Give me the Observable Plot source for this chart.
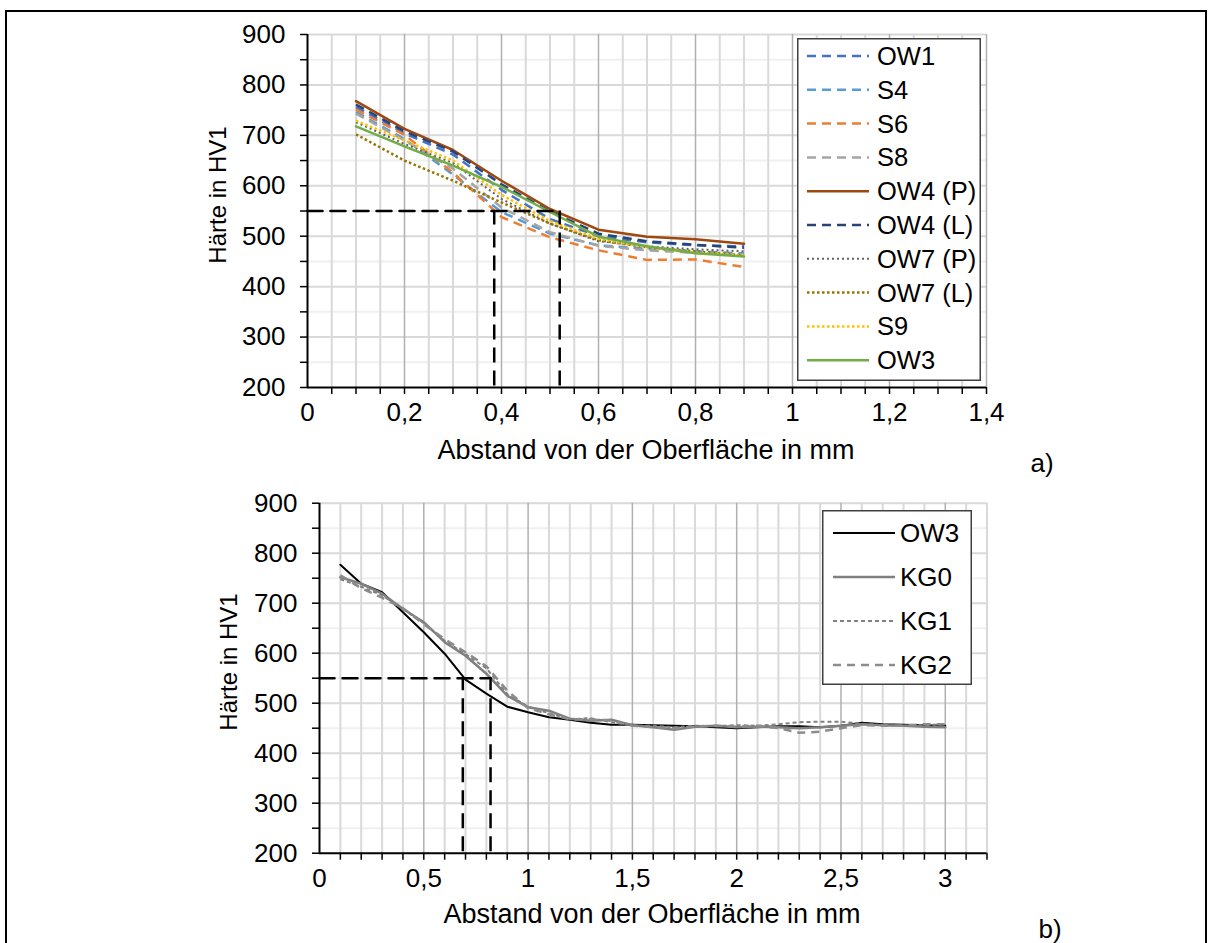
<!DOCTYPE html>
<html><head><meta charset="utf-8">
<script src="https://cdn.jsdelivr.net/npm/d3@7"></script>
<script src="https://cdn.jsdelivr.net/npm/@observablehq/plot@0.6"></script>
<style>
body{margin:0;background:#fff;font-family:"Liberation Sans",Arial,sans-serif;}
#wrap{position:relative;width:1211px;height:943px;overflow:hidden;background:#fff;}
.abs{position:absolute;}
.lbl{position:absolute;transform:translate(-50%,-50%);white-space:nowrap;color:#000;}
</style></head><body><div id="wrap"></div>
<script>
// ---------- Data: chart a) ----------
const xTop = [0.1, 0.2, 0.3, 0.4, 0.5, 0.6, 0.7, 0.8, 0.9];
const seriesTopNames = ["OW1", "S4", "S6", "S8", "OW4 (P)", "OW4 (L)", "OW7 (P)", "OW7 (L)", "S9", "OW3"];
const OW1   = [756, 704, 662, 592, 534, 500, 488, 482, 480];
const S4    = [746, 693, 622, 548, 505, 482, 475, 470, 466];
const S6    = [751, 701, 626, 538, 498, 472, 453, 454, 439];
const S8    = [743, 690, 634, 557, 508, 481, 472, 467, 463];
const OW4P  = [768, 713, 671, 610, 554, 513, 499, 494, 485];
const OW4L  = [761, 708, 668, 603, 549, 505, 490, 483, 477];
const OW7P  = [726, 683, 645, 574, 525, 490, 480, 474, 470];
const OW7L  = [702, 650, 610, 567, 525, 492, 478, 470, 462];
const S9    = [729, 690, 650, 582, 530, 495, 478, 467, 462];
const OW3a  = [718, 678, 640, 598, 548, 499, 480, 466, 460];
const xTicksTop = [0, 0.2, 0.4, 0.6, 0.8, 1, 1.2, 1.4];
const refTopH = 550, refTopV = [0.385, 0.52];

// ---------- Data: chart b) ----------
const xBottom = [0.1,0.2,0.3,0.4,0.5,0.6,0.7,0.8,0.9,1.0,1.1,1.2,1.3,1.4,1.5,1.6,1.7,1.8,1.9,2.0,2.1,2.2,2.3,2.4,2.5,2.6,2.7,2.8,2.9,3.0];
const seriesBottomNames = ["OW3", "KG0", "KG1", "KG2"];
const OW3b = [777,739,722,682,642,599,547,519,493,482,472,467,461,457,457,456,455,454,452,450,452,454,454,452,455,461,458,457,456,455];
const KG0  = [752,739,719,689,662,622,595,559,515,492,485,469,465,467,456,452,447,453,455,452,453,452,450,452,455,458,456,455,453,452];
const KG1  = [748,733,716,688,660,625,598,570,518,493,480,468,470,462,455,455,452,455,454,456,455,458,462,463,463,459,456,455,456,458];
const KG2  = [756,730,711,690,658,628,602,574,525,490,478,468,468,465,455,452,450,453,455,453,455,450,441,443,450,456,455,455,458,458];
const xTicksBottom = [0, 0.5, 1, 1.5, 2, 2.5, 3];
const refBotH = 550, refBotV = [0.687, 0.82];

const yTicks = [200, 300, 400, 500, 600, 700, 800, 900];

// ---------- Helpers ----------
const FONT = "Liberation Sans, Arial, sans-serif";
const fmt = d => String(d).replace(".", ",");
const wrap = document.getElementById("wrap");
const rows = (xs, ys) => xs.map((x, i) => ({x, y: ys[i]}));
const stepList = (a, b, n) => d3.range(n + 1).map(i => +(a + (b - a) * i / n).toFixed(4));

const topStyles = [
  {name: "OW1",     data: OW1,  stroke: "#4472C4", width: 2.5, dash: "9,6"},
  {name: "S4",      data: S4,   stroke: "#5B9BD5", width: 2.5, dash: "9,6"},
  {name: "S6",      data: S6,   stroke: "#ED7D31", width: 2.5, dash: "9,6"},
  {name: "S8",      data: S8,   stroke: "#A5A5A5", width: 2.5, dash: "9,6"},
  {name: "OW4 (P)", data: OW4P, stroke: "#9E480E", width: 2.5, dash: null},
  {name: "OW4 (L)", data: OW4L, stroke: "#264478", width: 2.5, dash: "9,6"},
  {name: "OW7 (P)", data: OW7P, stroke: "#636363", width: 2,   dash: "2,3"},
  {name: "OW7 (L)", data: OW7L, stroke: "#997300", width: 2.5, dash: "2.5,2.5"},
  {name: "S9",      data: S9,   stroke: "#FFC000", width: 2.5, dash: "2.5,2.5"},
  {name: "OW3",     data: OW3a, stroke: "#70AD47", width: 2.5, dash: null}
];
const botStyles = [
  {name: "OW3", data: OW3b, stroke: "#000000", width: 2,   dash: null},
  {name: "KG0", data: KG0,  stroke: "#808080", width: 2.5, dash: null},
  {name: "KG1", data: KG1,  stroke: "#808080", width: 2,   dash: "4,3"},
  {name: "KG2", data: KG2,  stroke: "#8c8c8c", width: 2.5, dash: "8,6"}
];

function makeChart(opt) {
  const {xDomain, xs, styles, xLabelTicks, xMinor, xMajor, ref, top, height, mL, mR, mT, mB} = opt;
  const yMinor = [250, 350, 450, 550, 650, 750, 850];
  const yMajor = [300, 400, 500, 600, 700, 800, 900];
  const yAllTicks = stepList(200, 900, 14);
  const marks = [
    Plot.ruleY(yMinor, {stroke: "#f0f0f0", strokeWidth: 2}),
    Plot.ruleY(yMajor, {stroke: "#d9d9d9", strokeWidth: 2}),
    Plot.ruleX(xMinor, {stroke: "#d9d9d9", strokeWidth: 2}),
    Plot.ruleX(xMajor, {stroke: "#b0b0b0", strokeWidth: 1.5})
  ];
  for (const s of styles) {
    marks.push(Plot.line(rows(xs, s.data), {x: "x", y: "y", stroke: s.stroke, strokeWidth: s.width,
      strokeDasharray: s.dash || undefined, strokeLinejoin: "round", strokeLinecap: s.dash ? "butt" : "round"}));
  }
  // reference lines
  marks.push(Plot.line([{x: 0, y: ref.h}, {x: ref.v[1], y: ref.h}], {x: "x", y: "y", stroke: "#000", strokeWidth: 2.5, strokeDasharray: "15,8"}));
  marks.push(Plot.ruleX(ref.v, {y1: 203, y2: ref.h, stroke: "#000", strokeWidth: 2.5, strokeDasharray: "15,8"}));
  // axes
  marks.push(Plot.ruleX([xDomain[0]], {stroke: "#000", strokeWidth: 2}));
  marks.push(Plot.ruleY([200], {stroke: "#000", strokeWidth: 2}));
  marks.push(Plot.axisX({ticks: xMinor.concat(xMajor), tickSize: 7, tickFormat: () => "", stroke: "#000", strokeWidth: 1.5}));
  marks.push(Plot.axisX({ticks: xLabelTicks, tickSize: 0, tickPadding: 15, tickFormat: fmt, fontSize: 26, fill: "#000"}));
  marks.push(Plot.axisY({ticks: yAllTicks, tickSize: 7, tickFormat: () => "", stroke: "#000", strokeWidth: 1.5}));
  marks.push(Plot.axisY({ticks: yTicks, tickSize: 0, tickPadding: 22, fontSize: 26, fill: "#000"}));
  const svg = Plot.plot({
    width: 1211, height, marginLeft: mL, marginRight: mR, marginTop: mT, marginBottom: mB,
    x: {domain: xDomain, label: null}, y: {domain: [200, 900], label: null},
    style: {fontFamily: FONT, fontSize: "26px", color: "#000", background: "transparent", overflow: "visible"},
    marks
  });
  svg.style.position = "absolute";
  svg.style.left = "0px";
  svg.style.top = top + "px";
  return svg;
}

// outer frame
const frame = document.createElement("div");
frame.className = "abs";
Object.assign(frame.style, {left: "5px", top: "10px", width: "1202px", height: "960px", border: "2px solid #000", boxSizing: "border-box"});
wrap.appendChild(frame);

// chart a)
const xMajorA = [0.2, 0.4, 0.6, 0.8, 1, 1.2, 1.4];
const xMinorA = stepList(0, 1.4, 28).filter(v => !xMajorA.includes(v) && v > 0);
wrap.appendChild(makeChart({
  xDomain: [0, 1.4], xs: xTop, styles: topStyles, xLabelTicks: xTicksTop,
  xMinor: xMinorA, xMajor: xMajorA, ref: {h: refTopH, v: refTopV},
  top: 0, height: 470, mL: 307, mR: 225, mT: 34, mB: 83
}));

// chart b)
const xMajorB = [0.5, 1, 1.5, 2, 2.5, 3];
const xMinorB = stepList(0, 3.2, 32).filter(v => !xMajorB.includes(v) && v > 0);
wrap.appendChild(makeChart({
  xDomain: [0, 3.2], xs: xBottom, styles: botStyles, xLabelTicks: xTicksBottom,
  xMinor: xMinorB, xMajor: xMajorB, ref: {h: refBotH, v: refBotV},
  top: 468, height: 475, mL: 319, mR: 224.5, mT: 34.7, mB: 90.3
}));

// text labels
function label(text, x, y, size, rotate) {
  const d = document.createElement("div");
  d.className = "lbl";
  d.textContent = text;
  d.style.left = x + "px";
  d.style.top = y + "px";
  d.style.fontSize = size + "px";
  if (rotate) d.style.transform = "translate(-50%,-50%) rotate(-90deg)";
  wrap.appendChild(d);
}
label("Abstand von der Oberfläche in mm", 646, 450, 27);
label("Abstand von der Oberfläche in mm", 652, 914, 27);
label("Härte in HV1", 218, 195, 24, true);
label("Härte in HV1", 229, 662, 24, true);
label("a)", 1042, 463, 26);
label("b)", 1050, 929, 26);

// legends
function legend(styles, left, top, w, h, firstY, step, x1, x2, tx, size) {
  const svg = d3.create("svg").attr("width", w).attr("height", h)
    .style("position", "absolute").style("left", left + "px").style("top", top + "px").style("overflow", "visible");
  svg.append("rect").attr("x", 0.75).attr("y", 0.75).attr("width", w - 1.5).attr("height", h - 1.5)
    .attr("fill", "#fff").attr("stroke", "#404040").attr("stroke-width", 1.5);
  styles.forEach((s, i) => {
    const y = firstY - top + i * step;
    svg.append("line").attr("x1", x1 - left).attr("x2", x2 - left).attr("y1", y).attr("y2", y)
      .attr("stroke", s.stroke).attr("stroke-width", s.width)
      .attr("stroke-dasharray", s.dash || null);
    svg.append("text").attr("x", tx - left).attr("y", y).attr("dy", "0.35em")
      .attr("font-family", FONT).attr("font-size", size).attr("fill", "#000").text(s.name);
  });
  wrap.appendChild(svg.node());
}
legend(topStyles, 797, 38, 184, 343, 56, 33.8, 807, 869, 877, 25.5);
legend(botStyles, 822, 510, 150, 175, 533, 44, 833, 895, 900, 26);
</script></body></html>
